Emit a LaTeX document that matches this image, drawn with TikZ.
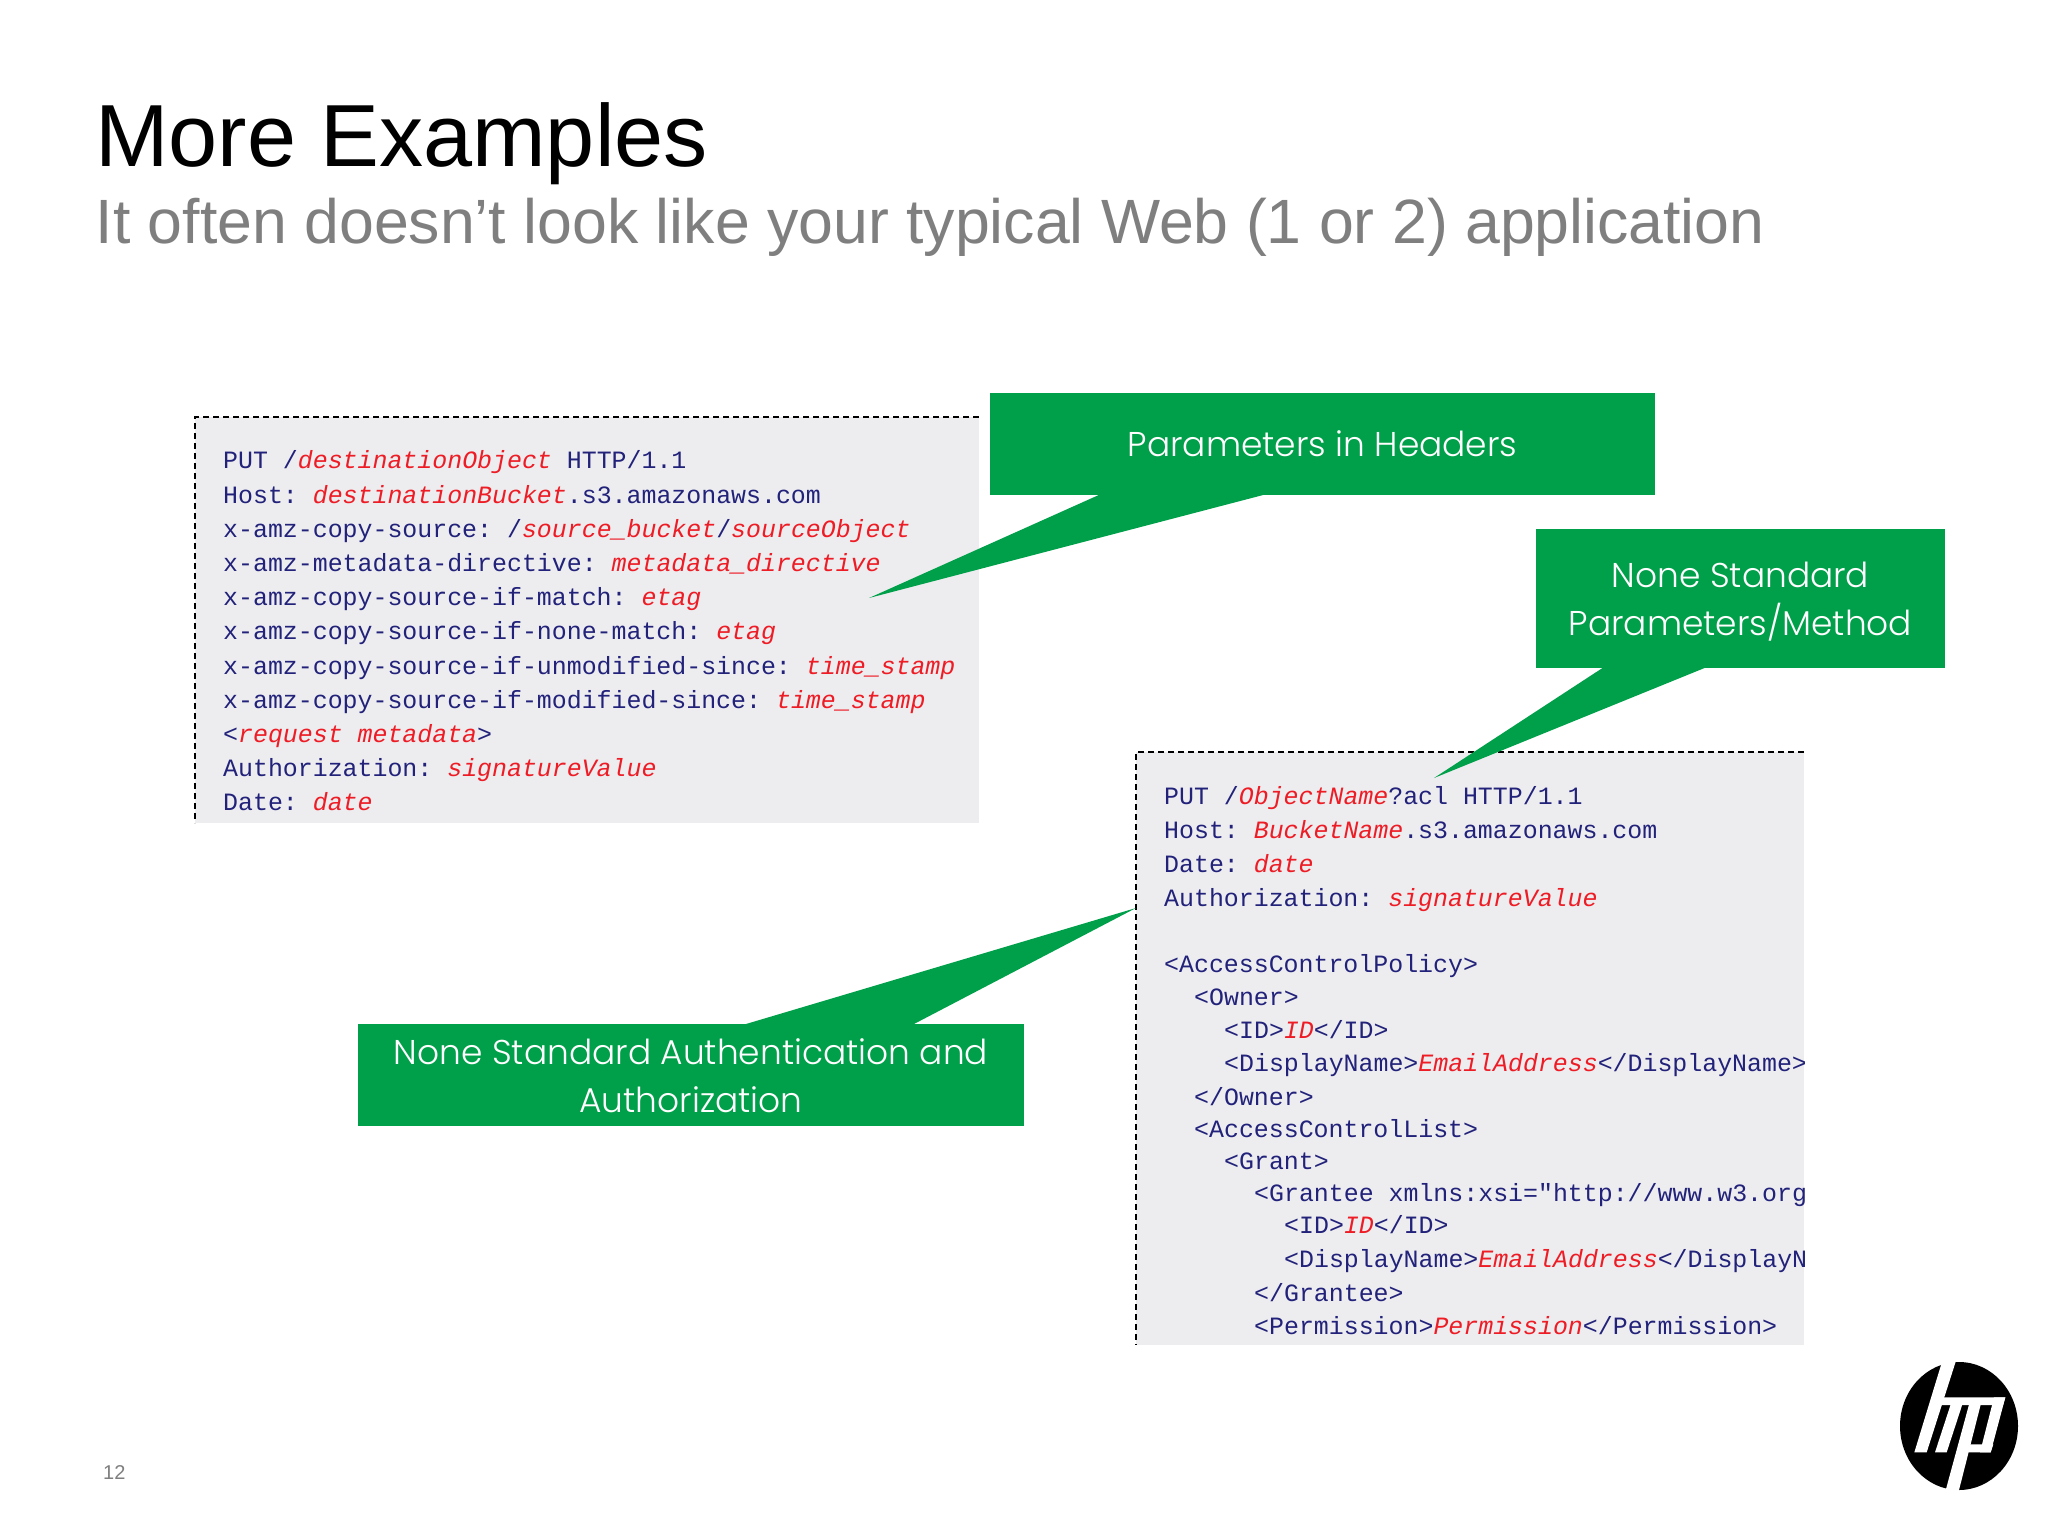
\documentclass[tikz,border=0pt]{standalone}
\usepackage{fontspec}
\setmainfont{Liberation Sans}
\newfontfamily\codefont{Liberation Mono}
\newfontfamily\callfont{Poppins Light}
\definecolor{hpgreen}{HTML}{00A04A}
\definecolor{panelgray}{HTML}{EDEDF0}
\definecolor{codeblue}{HTML}{22227A}
\definecolor{codered}{HTML}{EE1C25}
\definecolor{subgray}{HTML}{7F7F7F}
\newcommand{\R}[1]{\textcolor{codered}{\itshape #1}}
\newcommand{\cl}[4]{\node[codeline] (#1) at (#2,#3) {\frenchspacing #4};}
\tikzset{
  codeline/.style={anchor=base west,inner sep=0pt,text=codeblue,yshift=-1.3pt,font=\codefont\fontsize{24.9}{30}\selectfont},
  callbox/.style={fill=hpgreen,inner sep=0pt},
  calltext/.style={text=white,inner sep=0pt,align=center,font=\callfont\fontsize{34.4}{48}\selectfont},
  edge/.style={black,line width=1.6pt,dash pattern=on 6pt off 4pt}
}
\begin{document}
\begin{tikzpicture}[x=1pt,y=-1pt]
\useasboundingbox (0,0) rectangle (2048,1536);
\fill[white] (0,0) rectangle (2048,1536);
\node[anchor=base west,inner sep=0pt,font=\fontsize{88.2}{100}\selectfont] (title) at (95,167) {More Examples};
\node[anchor=base west,inner sep=0pt,text=subgray,font=\fontsize{62.6}{70}\selectfont] (subtitle) at (95.5,243) {It often doesn’t look like your typical Web (1 or 2) application};
% panel 1
\fill[panelgray] (195,417) rectangle (979,823);
\draw[edge] (979,417) -- (195,417) -- (195,823);
\cl{a1}{223}{467}{PUT /\R{destinationObject} HTTP/1.1}
\cl{a2}{223}{502}{Host: \R{destinationBucket}.s3.amazonaws.com}
\cl{a3}{223}{536}{x-amz-copy-source: /\R{source\_bucket}/\R{sourceObject}}
\cl{a4}{223}{570}{x-amz-metadata-directive: \R{metadata\_directive}}
\cl{a5}{223}{604}{x-amz-copy-source-if-match: \R{etag}}
\cl{a6}{223}{638}{x-amz-copy-source-if-none-match: \R{etag}}
\cl{a7}{223}{673}{x-amz-copy-source-if-unmodified-since: \R{time\_stamp}}
\cl{a8}{223}{707}{x-amz-copy-source-if-modified-since: \R{time\_stamp}}
\cl{a9}{223}{741}{<\R{request metadata}>}
\cl{a10}{223}{775}{Authorization: \R{signatureValue}}
\cl{a11}{223}{809}{Date: \R{date}}
% panel 2
\fill[panelgray] (1136,752) rectangle (1804,1345);
\draw[edge] (1804,752) -- (1136,752) -- (1136,1345);
\begin{scope}
\clip (1136,752) rectangle (1804,1345);
\cl{b1}{1164}{803}{PUT /\R{ObjectName}?acl HTTP/1.1}
\cl{b2}{1164}{837}{Host: \R{BucketName}.s3.amazonaws.com}
\cl{b3}{1164}{871}{Date: \R{date}}
\cl{b4}{1164}{905}{Authorization: \R{signatureValue}}
\cl{b5}{1164}{971}{<AccessControlPolicy>}
\cl{b6}{1194}{1004}{<Owner>}
\cl{b7}{1224}{1037}{<ID>\R{ID}</ID>}
\cl{b8}{1224}{1070}{<DisplayName>\R{EmailAddress}</DisplayName>}
\cl{b9}{1194}{1104}{</Owner>}
\cl{b10}{1194}{1136}{<AccessControlList>}
\cl{b11}{1224}{1168}{<Grant>}
\cl{b12}{1254}{1200}{<Grantee xmlns:xsi="http://www.w3.org}
\cl{b13}{1284}{1232}{<ID>\R{ID}</ID>}
\cl{b14}{1284}{1266}{<DisplayName>\R{EmailAddress}</DisplayN}
\cl{b15}{1254}{1300}{</Grantee>}
\cl{b16}{1254}{1333}{<Permission>\R{Permission}</Permission>}
\end{scope}
% callouts
\node[callbox,minimum width=665pt,minimum height=102pt] (c1) at (1322.5,444) {};
\node[calltext] (c1t) at (1322.5,443.5) {Parameters in Headers};
\fill[hpgreen] (1101,494) -- (1267,494) -- (869,598) -- cycle;
\node[callbox,minimum width=409pt,minimum height=139pt] (c2) at (1740.5,598.5) {};
\node[calltext] (c2t) at (1740.5,601.5) {None Standard\\Parameters/Method};
\fill[hpgreen] (1604,667) -- (1707,667) -- (1434,778) -- cycle;
\node[callbox,minimum width=666pt,minimum height=102pt] (c3) at (691,1075) {};
\node[calltext] (c3t) at (691,1076) {None Standard Authentication and\\Authorization};
\fill[hpgreen] (746,1024) -- (914,1024) -- (1136,908) -- cycle;
% page number
\node[anchor=base west,inner sep=0pt,text=subgray,font=\fontsize{20}{24}\selectfont] (pageno) at (103,1479) {12};
% logo
\fill[black] (1959,1426) ellipse [x radius=59,y radius=64];
\begin{scope}[shift={(1860,1340)},x=0.33333pt,y=-0.33333pt]
\fill[white] (247,62) -- (288,62) -- (200,337) -- (163,337) -- cycle;
\fill[white] (240,172) -- (436,172) -- (429,195) -- (233,195) -- cycle;
\fill[white] (273,190) -- (308,190) -- (260,337) -- (225,337) -- cycle;
\fill[white] (328,190) -- (363,190) -- (295,458) -- (255,458) -- cycle;
\fill[white] (330,313) -- (400,313) -- (392,337) -- (323,337) -- cycle;
\fill[white] (402,172) -- (436,172) -- (392,337) -- (360,337) -- cycle;
\end{scope}
\end{tikzpicture}
\end{document}
